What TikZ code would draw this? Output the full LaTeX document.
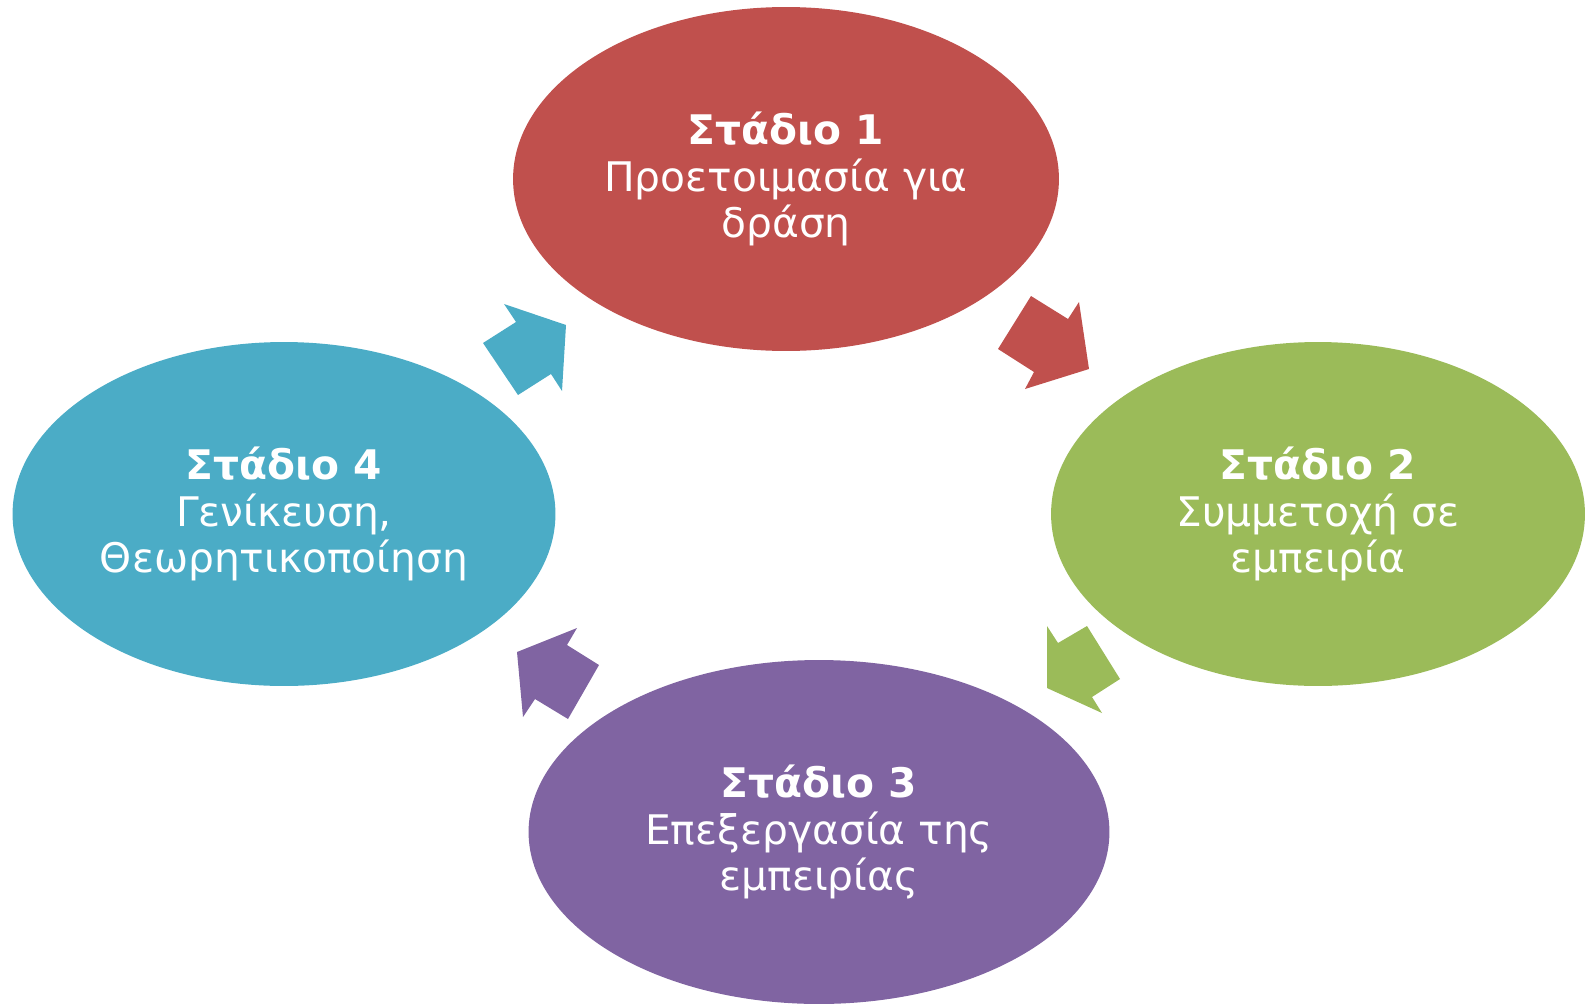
\documentclass[tikz,border=0pt]{standalone}
\usepackage{fontspec}
\setmainfont{DejaVu Sans}
\usetikzlibrary{shapes.geometric}

\definecolor{stred}{HTML}{C0504D}
\definecolor{stgreen}{HTML}{9BBB59}
\definecolor{stpurple}{HTML}{8064A2}
\definecolor{stblue}{HTML}{4BACC6}

\begin{document}
\begin{tikzpicture}
  [x=0.02cm,y=-0.02cm,
   stage/.style={ellipse,inner sep=0pt,minimum height=6.88cm,text=white,align=center,
     font=\fontsize{23.2}{26.4}\selectfont}]
  \useasboundingbox (0,0) rectangle (1585,1004);

  \node[stage,fill=stred,minimum width=10.92cm] (s1) at (786,179) {\textbf{Στάδιο 1}\\Προετοιμασία για\\δράση};
  \node[stage,fill=stgreen,minimum width=10.68cm] (s2) at (1318,514) {\textbf{Στάδιο 2}\\Συμμετοχή σε\\εμπειρία};
  \node[stage,fill=stpurple,minimum width=11.62cm] (s3) at (819,832) {\textbf{Στάδιο 3}\\Επεξεργασία της\\εμπειρίας};
  \node[stage,fill=stblue,minimum width=10.86cm] (s4) at (284,514) {\textbf{Στάδιο 4}\\Γενίκευση,\\Θεωρητικοποίηση};

  % block arrows between the stages
  \fill[stred] (1031,296) -- (998,349) -- (1034,372) -- (1025,389) -- (1089,369) -- (1079,302) -- (1068,319) -- cycle;
  \fill[stgreen] (1047,626) -- (1058,643) -- (1087,626) -- (1120,679) -- (1092,697) -- (1102,713) -- (1047,688) -- cycle;
  \fill[stpurple] (577,628) -- (567,645) -- (599,665) -- (568,719) -- (535,699) -- (523,717) -- (517,652) -- cycle;
  \fill[stblue] (504,304) -- (516,322) -- (483,343) -- (518,395) -- (551,374) -- (562,391) -- (566,325) -- cycle;

\end{tikzpicture}
\end{document}
